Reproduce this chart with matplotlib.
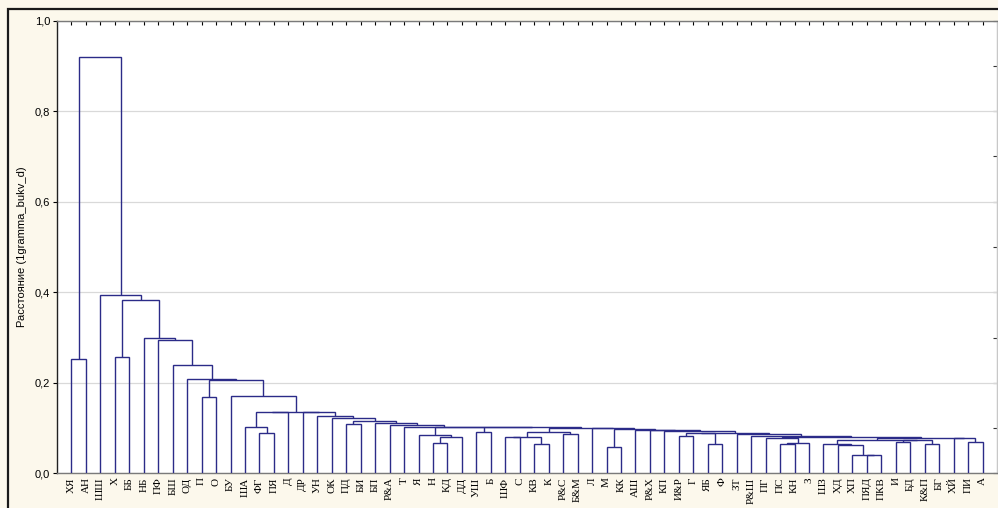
import matplotlib
matplotlib.use("Agg")
import matplotlib.pyplot as plt
from matplotlib.patches import Rectangle
import numpy as np

# ---- data -------------------------------------------------------------
leaf_labels = ["ХЯ", "АН", "ШШ", "Х", "ББ", "НБ", "ПФ", "БШ", "ОД", "П", "О", "БУ",
               "ША", "ФГ", "ПЯ", "Д", "ДР", "УН", "ОК", "ПД", "БИ", "БП", "Р&А", "Т",
               "Я", "Н", "КД", "ДД", "УШ", "Б", "ШФ", "С", "КВ", "К", "Р&С", "Б&М",
               "Л", "М", "КК", "АШ", "Р&Х", "КП", "И&Р", "Г", "ЯБ", "Ф", "ЗТ", "Р&Ш",
               "ПГ", "ПС", "КН", "З", "ШЗ", "ХД", "ХП", "ПЯД", "ПКВ", "И", "БД", "К&П",
               "БГ", "ХЙ", "ПИ", "А"]

# merges: cluster cNN joins merge_left[k] and merge_right[k] at merge_height[k]
merge_left = ["ХЯ", "Х", "П", "ФГ", "ША", "c05", "ПД", "Н", "c08", "Я",
              "УШ", "ШФ", "КВ", "c12", "Р&С", "c14", "М", "И&Р", "ЯБ", "c18",
              "ПС", "c21", "ПГ", "ПЯД", "ХП", "ХД", "ШЗ", "И", "К&П", "c28",
              "ПИ", "ХЙ", "c27", "c33", "c23", "Р&Ш", "ЗТ", "c20", "КП", "Р&Х",
              "АШ", "c17", "Л", "c16", "c11", "c10", "Т", "Р&А", "БП", "c07",
              "ОК", "УН", "ДР", "c06", "БУ", "c03", "ОД", "БШ", "ПФ", "НБ",
              "c02", "ШШ", "c01"]
merge_right = ["АН", "ББ", "О", "ПЯ", "c04", "Д", "БИ", "КД", "ДД", "c09",
               "Б", "С", "К", "c13", "Б&М", "c15", "КК", "Г", "Ф", "c19",
               "КН", "З", "c22", "ПКВ", "c24", "c25", "c26", "БД", "БГ", "c29",
               "А", "c31", "c30", "c32", "c34", "c35", "c36", "c37", "c38", "c39",
               "c40", "c41", "c42", "c43", "c44", "c45", "c46", "c47", "c48", "c49",
               "c50", "c51", "c52", "c53", "c54", "c55", "c56", "c57", "c58", "c59",
               "c60", "c61", "c62"]
merge_height = [0.252, 0.256, 0.168, 0.088, 0.1015, 0.1352, 0.110, 0.066, 0.081, 0.0846,
                0.092, 0.0795, 0.064, 0.081, 0.0867, 0.0905, 0.0588, 0.0823, 0.0647, 0.0885,
                0.0645, 0.066, 0.077, 0.0395, 0.0405, 0.062, 0.064, 0.0698, 0.0647, 0.0735,
                0.0698, 0.0786, 0.0740, 0.0790, 0.0798, 0.0823, 0.0860, 0.0895, 0.0934, 0.0952,
                0.0965, 0.0978, 0.0993, 0.1008, 0.1012, 0.1016, 0.1025, 0.1066, 0.1117, 0.1155,
                0.1214, 0.1270, 0.1350, 0.1358, 0.1700, 0.2053, 0.2089, 0.2384, 0.2943, 0.2994,
                0.3840, 0.3936, 0.9200]

y_ticks = [0.0, 0.2, 0.4, 0.6, 0.8, 1.0]
y_tick_labels = ["0,0", "0,2", "0,4", "0,6", "0,8", "1,0"]
y_label = "Расстояние (1gramma_bukv_d)"

# ---- figure -----------------------------------------------------------
W, H = 998, 508
fig = plt.figure(figsize=(W / 100, H / 100), dpi=100)
fig.patch.set_facecolor("#fcf8ec")

ax_left, ax_right, ax_top, ax_bottom = 57, 997, 20.7, 473.3
ax = fig.add_axes([ax_left / W, 1 - ax_bottom / H,
                   (ax_right - ax_left) / W, (ax_bottom - ax_top) / H])
ax.set_facecolor("white")

line_color = "#2b2b88"
pos = {lab: i + 1 for i, lab in enumerate(leaf_labels)}
hgt = {lab: 0.0 for lab in leaf_labels}
for k, (l, r, h) in enumerate(zip(merge_left, merge_right, merge_height)):
    name = f"c{k + 1:02d}"
    xl, xr = pos[l], pos[r]
    ax.plot([xl, xl, xr, xr], [hgt[l], h, h, hgt[r]], color=line_color,
            lw=1.0, solid_joinstyle="miter", solid_capstyle="butt", zorder=3)
    pos[name] = (xl + xr) / 2
    hgt[name] = h

ax.set_xlim(0, len(leaf_labels) + 1)
ax.set_ylim(0, 1.0)

# y axis
ax.set_yticks(y_ticks)
ax.set_yticklabels(y_tick_labels, fontsize=8, family="Liberation Sans")
ax.tick_params(axis="y", direction="out", length=3, width=0.8, pad=2,
               left=True, right=False, colors="black")
ax.yaxis.grid(True, color="#d9d9d9", lw=0.9, zorder=0)
ax.xaxis.grid(False)
ax.set_axisbelow(True)

sec = ax.secondary_yaxis("right")
sec.set_yticks(np.arange(0, 1.01, 0.1))
sec.tick_params(direction="in", length=3, width=0.8, labelright=False, colors="#333333")
sec.spines["right"].set_color("#c8c8c8")

# x axis: labels at bottom, small ticks along the top spine
ax.set_xticks(range(1, len(leaf_labels) + 1))
ax.set_xticklabels(leaf_labels, rotation=90, fontsize=8, family="Liberation Serif")
ax.tick_params(axis="x", direction="in", length=3, width=0.8, top=True, bottom=False,
               labelbottom=True, labeltop=False, pad=3)

for side, col in [("left", "#222222"), ("bottom", "#7a7a7a"), ("top", "#7a7a7a"),
                  ("right", "#c8c8c8")]:
    ax.spines[side].set_color(col)
    ax.spines[side].set_linewidth(1.0)

fig.text(22 / W, 1 - 247 / H, y_label, rotation=90, fontsize=8,
         family="Liberation Sans", ha="center", va="center")

# outer frame
fig.patches.append(Rectangle((8 / W, -0.1), 1.2, 1.1 - 9 / H, transform=fig.transFigure,
                             fill=False, ec="#1a1a1a", lw=1.6, zorder=10))

fig.savefig("out.png", dpi=100, facecolor=fig.get_facecolor())
